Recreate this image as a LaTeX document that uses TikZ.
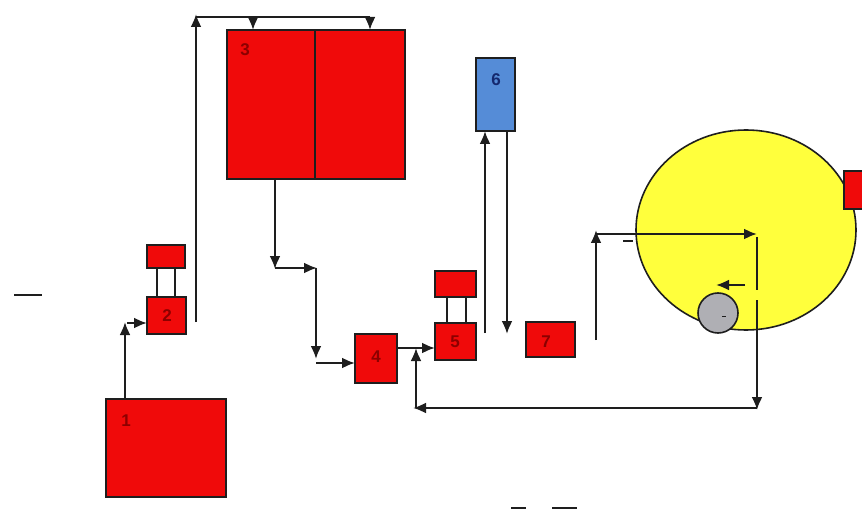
\documentclass[tikz,border=0pt]{standalone}
\usepackage{fontspec}
\setmainfont{Liberation Sans}
\usetikzlibrary{arrows.meta}
\definecolor{boxred}{RGB}{240,10,10}
\definecolor{labred}{RGB}{140,0,0}
\definecolor{boxblue}{RGB}{85,140,215}
\definecolor{labblue}{RGB}{20,40,110}
\definecolor{ylw}{RGB}{255,255,60}
\definecolor{gry}{RGB}{175,175,180}
\definecolor{ln}{RGB}{30,30,30}
\tikzset{
  redbox/.style={draw=ln, line width=1.6pt, fill=boxred},
  lab/.style={font=\fontsize{17}{17}\selectfont\bfseries, text=labred, inner sep=0pt},
  flow/.style={draw=ln, line width=2.2pt, -{Latex[length=13pt,width=11pt]}},
  plain/.style={draw=ln, line width=2.2pt},
}
\begin{document}
\begin{tikzpicture}[x=1pt,y=-1pt]
\useasboundingbox (0,0) rectangle (862,513);
% yellow circle
\draw[ln, line width=1.6pt, fill=ylw] (746,230) ellipse [x radius=110, y radius=100];
\node[redbox, minimum width=25pt, minimum height=38pt, anchor=north west, inner sep=0pt] (r) at (843,170) {};
\draw[ln, line width=1.6pt, fill=gry] (718,313) circle (20) node (g) {};
\draw[ln, line width=0.8pt] (722,316) -- (726,316);
% boxes
\draw[redbox] (106,399) rectangle (226,497);
\node[lab] (l1) at (126,421) {1};
\draw[redbox] (147,297) rectangle (186,334);
\node[lab] (l2) at (167,316) {2};
\draw[redbox] (147,245) rectangle (185,268);
\draw[plain] (157,268) -- (157,297);
\draw[plain] (175,268) -- (175,297);
\draw[redbox] (227,30) rectangle (405,179);
\draw[ln, line width=1.6pt] (315,30) -- (315,179);
\node[lab] (l3) at (245,50) {3};
\draw[redbox] (355,334) rectangle (397,383);
\node[lab] (l4) at (376,357) {4};
\draw[redbox] (435,323) rectangle (476,360);
\node[lab] (l5) at (455,342) {5};
\draw[redbox] (435,271) rectangle (476,297);
\draw[plain] (447,297) -- (447,323);
\draw[plain] (466,297) -- (466,323);
\draw[ln, line width=1.6pt, fill=boxblue] (476,58) rectangle (515,131);
\node[lab, text=labblue] (l6) at (496,80) {6};
\draw[redbox] (526,322) rectangle (575,357);
\node[lab] (l7) at (546,342) {7};
% flows
\draw[flow] (125,399) -- (125,322);
\draw[flow] (127,323) -- (147,323);
\draw[plain] (196,322) -- (196,30);
\draw[flow] (196,30) -- (196,14);
\draw[plain] (196,17) -- (370,17);
\draw[flow] (253,17) -- (253,30);
\draw[flow] (370,17) -- (370,30);
\draw[flow] (275,179) -- (275,269);
\draw[flow] (275,268) -- (317,268);
\draw[flow] (316,268) -- (316,359);
\draw[flow] (316,363) -- (355,363);
\draw[flow] (397,348) -- (435,348);
\draw[flow] (485,333) -- (485,131);
\draw[flow] (507,131) -- (507,334);
\draw[flow] (596,340) -- (596,230);
\draw[flow] (596,234) -- (757,234);
\draw[plain] (757,237) -- (757,290);
\draw[flow] (757,300) -- (757,410);
\draw[flow] (757,408) -- (413,408);
\draw[flow] (416,408) -- (416,348);
\draw[flow] (745,285) -- (716,285);
% stray marks
\draw[plain] (623,241) -- (633,241);
\draw[plain] (14,295) -- (42,295);
\draw[plain] (511,508) -- (526,508);
\draw[plain] (552,508) -- (577,508);
\end{tikzpicture}
\end{document}
